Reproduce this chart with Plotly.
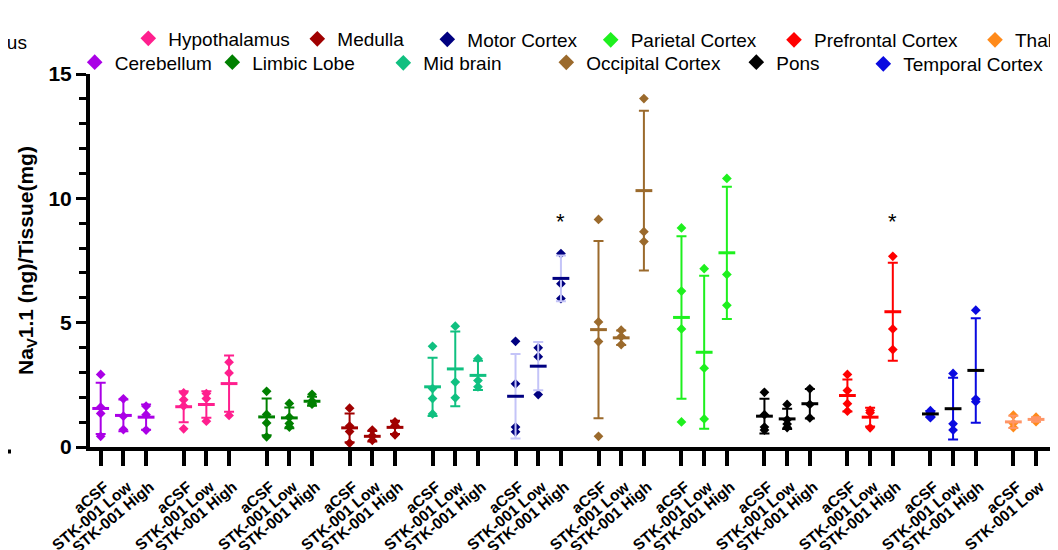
import plotly.graph_objects as go

FONT = "Liberation Sans, Arial, sans-serif"

regions = ["Cerebellum", "Hypothalamus", "Limbic Lobe", "Medulla", "Mid brain",
           "Motor Cortex", "Occipital Cortex", "Parietal Cortex", "Pons",
           "Prefrontal Cortex", "Temporal Cortex", "Thalamus"]
treatments = ["aCSF", "STK-001 Low", "STK-001 High"]

# individual points: [aCSF, Low, High]
cerebellum = [[2.92, 1.60, 1.35, 0.43], [1.94, 1.24, 0.70], [1.64, 1.30, 0.68]]
hypothalamus = [[2.18, 1.90, 1.65, 0.73], [2.15, 1.95, 1.04], [3.41, 2.98, 1.27]]
limbic_lobe = [[2.24, 1.31, 0.97, 0.41], [1.75, 1.20, 0.95, 0.80], [2.12, 1.85, 1.75, 1.72]]
medulla = [[1.56, 0.84, 0.62, 0.16], [0.68, 0.45, 0.27], [1.01, 0.86, 0.49]]
mid_brain = [[4.05, 2.35, 1.95, 1.33], [4.86, 2.61, 1.98], [3.55, 2.67, 2.42]]
motor_cortex = [[4.25, 2.54, 0.80, 0.61], [3.99, 3.63, 2.11], [7.78, 6.57, 5.97]]
occipital_cortex = [[9.15, 5.03, 4.24, 0.43], [4.70, 4.44, 4.12], [14.01, 8.66, 8.26]]
parietal_cortex = [[8.81, 6.27, 4.75, 1.01], [7.17, 3.17, 1.13], [10.80, 6.94, 5.70]]
pons = [[2.20, 1.30, 0.80, 0.68], [1.71, 1.10, 0.92, 0.78], [2.34, 1.71, 1.17]]
prefrontal_cortex = [[2.92, 2.27, 1.74, 1.44], [1.47, 1.38, 0.77], [7.67, 4.75, 3.92]]
temporal_cortex = [[1.46, 1.40, 1.30, 1.18], [2.96, 0.93, 0.68], [5.50, 1.93, 1.82]]
thalamus = [[1.28, 0.95, 0.78], [1.20, 1.13, 1.02], [1.32, 1.12, 0.90]]

points = [cerebellum, hypothalamus, limbic_lobe, medulla, mid_brain, motor_cortex,
          occipital_cortex, parietal_cortex, pons, prefrontal_cortex,
          temporal_cortex, thalamus]

# group means and SD, per treatment (region order as above)
mean_acsf = [1.55, 1.62, 1.21, 0.77, 2.42, 2.04, 4.72, 5.21, 1.24, 2.07, 1.33, 1.01]
mean_low = [1.27, 1.71, 1.17, 0.43, 3.14, 3.25, 4.39, 3.81, 1.13, 1.20, 1.54, 1.11]
mean_high = [1.20, 2.55, 1.84, 0.79, 2.88, 6.78, 10.31, 7.81, 1.74, 5.44, 3.08, 1.11]
sd_acsf = [1.03, 0.62, 0.74, 0.58, 1.17, 1.70, 3.56, 3.27, 0.70, 0.64, 0.12, 0.25]
sd_low = [0.64, 0.53, 0.42, 0.21, 1.50, 0.97, 0.29, 3.08, 0.41, 0.38, 1.24, 0.09]
sd_high = [0.51, 1.13, 0.18, 0.27, 0.59, 0.92, 3.21, 2.66, 0.59, 1.97, 2.10, 0.21]

# significance marks: (region, treatment index, y)
stars = [("Motor Cortex", 2, 9.05), ("Prefrontal Cortex", 2, 9.05)]

colors = ["#aa00e6", "#ff1f8e", "#008000", "#a00000", "#10c080", "#000080",
          "#9b6a2c", "#1ef01e", "#000000", "#ff0000", "#0a0ae0", "#ff8a1a"]
mean_colors = ["#aa00e6", "#ff1f8e", "#008000", "#a00000", "#10c080", "#000080",
               "#9b6a2c", "#1ef01e", "#000000", "#ff0000", "#000000", "#ff9566"]
err_colors = ["#aa00e6", "#ff1f8e", "#008000", "#a00000", "#10c080", "#c4c4f8",
              "#9b6a2c", "#1ef01e", "#000000", "#ff0000", "#0a0ae0", "#ff9566"]

# legend placement (screen pixel positions of each legend symbol)
legend_px = [(95.7, 62.3), (149.3, 38.5), (233.3, 62.3), (318.3, 39), (404.3, 63),
             (448.3, 39.5), (567.3, 62.5), (611.7, 40), (757.3, 62.3), (795, 40),
             (884.3, 64), (996, 40)]

OFF = 8                      # page body margin around the figure
W, H = 1058, 550
ML, MR, MT, MB = 82, 0, 66, 111
PW, PH = W - ML - MR, H - MT - MB
GROUP = 3.655
XMIN = -0.471
XMAX = XMIN + PW / 22.7

def px2paper_x(px):
    return (px - OFF - ML) / PW

def px2paper_y(py):
    return (H - MB - (py - OFF)) / PH

fig = go.Figure()
means = [mean_acsf, mean_low, mean_high]
sds = [sd_acsf, sd_low, sd_high]
tickvals, ticktext = [], []

for g, region in enumerate(regions):
    xs, ys = [], []
    for i, vals in enumerate(points[g]):
        xpos = g * GROUP + i
        xs += [xpos] * len(vals)
        ys += vals
        tickvals.append(xpos)
        ticktext.append(treatments[i])
    lkey = "legend" if g == 0 else f"legend{g + 1}"
    fig.add_trace(go.Scatter(
        x=xs, y=ys, mode="markers", name=region, legend=lkey,
        marker=dict(symbol="diamond", size=7.5, color=colors[g], line=dict(width=0)),
        cliponaxis=False, hoverinfo="name+y"))
    gx = [g * GROUP + i for i in range(3)]
    fig.add_trace(go.Scatter(
        x=gx, y=[m[g] for m in means], mode="markers", showlegend=False,
        marker=dict(symbol="line-ew", size=12, color=mean_colors[g],
                    line=dict(width=3, color=mean_colors[g])),
        error_y=dict(type="data", array=[s[g] for s in sds], color=err_colors[g],
                     thickness=2, width=5, visible=True),
        cliponaxis=False, hoverinfo="y"))

layout_legends = {}
for g, (mx, my) in enumerate(legend_px):
    lkey = "legend" if g == 0 else f"legend{g + 1}"
    layout_legends[lkey] = dict(
        x=px2paper_x(mx - 21), y=px2paper_y(my), xanchor="left", yanchor="middle",
        bgcolor="rgba(0,0,0,0)", borderwidth=0, itemsizing="constant",
        font=dict(family=FONT, size=19, color="black"))

annotations = []
for region, ti, yv in stars:
    g = regions.index(region)
    annotations.append(dict(x=g * GROUP + ti, y=yv, xref="x", yref="y", text="*",
                            showarrow=False, font=dict(family=FONT, size=22, color="black"),
                            yanchor="middle"))
# fragment of neighbouring legend text at the top-left edge
annotations.append(dict(x=px2paper_x(28.5), y=px2paper_y(43), xref="paper", yref="paper",
                        text="mus", showarrow=False, xanchor="right", yanchor="middle",
                        font=dict(family=FONT, size=19, color="black")))

fig.update_layout(
    width=W, height=H,
    margin=dict(l=ML, r=MR, t=MT, b=MB, pad=0, autoexpand=False),
    paper_bgcolor="white", plot_bgcolor="white",
    font=dict(family=FONT, color="black"),
    annotations=annotations,
    shapes=[dict(type="line", xref="paper", yref="paper",
                 x0=px2paper_x(-2), x1=px2paper_x(11),
                 y0=px2paper_y(451.5), y1=px2paper_y(451.5),
                 line=dict(color="black", width=4))],
    xaxis=dict(range=[XMIN, XMAX], showgrid=False, zeroline=False, automargin=False,
               showline=True, linecolor="black", linewidth=4,
               ticks="outside", ticklen=15, tickwidth=4, tickcolor="black",
               tickmode="array", tickvals=tickvals, ticktext=ticktext,
               tickangle=-40, ticklabelstandoff=6, ticklabelshift=4,
               tickfont=dict(family=FONT, size=15.5, color="black", weight="bold")),
    yaxis=dict(range=[0, 15], showgrid=False, zeroline=False, automargin=False,
               showline=True, linecolor="black", linewidth=4,
               ticks="outside", ticklen=10, tickwidth=3, tickcolor="black",
               tickmode="linear", tick0=0, dtick=5,
               minor=dict(ticks="outside", ticklen=7, tickwidth=3, tickcolor="black",
                          dtick=1, showgrid=False),
               tickfont=dict(family=FONT, size=21, color="black", weight="bold"),
               title=dict(text="Na<sub>V</sub>1.1 (ng)/Tissue(mg)", standoff=10,
                          font=dict(family=FONT, size=21, color="black", weight="bold"))),
    **layout_legends,
)

fig.write_html("out.html")
